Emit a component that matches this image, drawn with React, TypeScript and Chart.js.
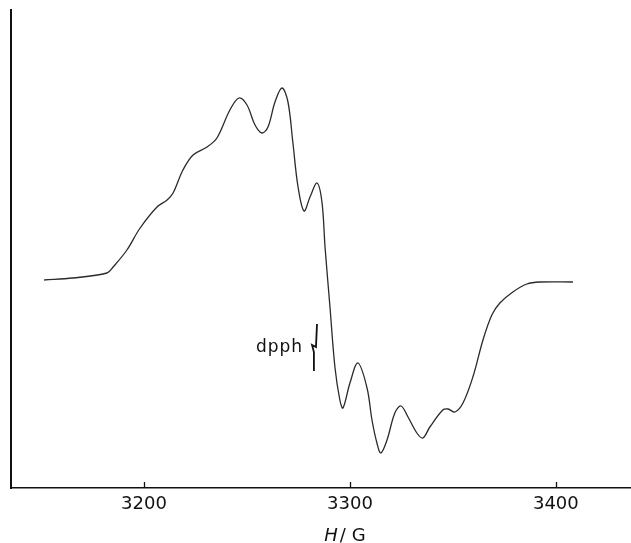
import { useEffect, useRef } from "react";
import { Chart, registerables } from "chart.js";

Chart.register(...registerables);

// Magnetic field (G) and derivative signal (arbitrary units, baseline = 0)
const fieldG = [
  3151.5, 3165.5, 3182.0, 3185.0, 3191.7, 3198.1, 3206.3, 3211.2, 3214.1, 3218.9,
  3223.8, 3230.6, 3235.4, 3241.7, 3246.1, 3250.0, 3253.9, 3257.3, 3260.2, 3263.6,
  3267.0, 3269.9, 3272.3, 3274.8, 3277.7, 3280.6, 3284.0, 3286.4, 3287.9,
  3290.3, 3292.7, 3295.1, 3296.6, 3300.0, 3303.9, 3308.3, 3310.7, 3313.1, 3315.0,
  3318.0, 3321.8, 3324.8, 3328.2, 3332.5, 3335.4, 3338.8, 3345.1, 3347.6, 3351.0,
  3354.9, 3359.7, 3364.6, 3368.9, 3372.8, 3379.1, 3385.9, 3392.2, 3408.3,
];
const signal = [
  0, 2, 7, 13, 30, 52, 73, 80, 87, 110,
  125, 133, 142, 170, 182, 175, 155, 147, 153, 178,
  192, 178, 137, 93, 69, 83, 97, 78, 33,
  -27, -87, -120, -128, -103, -83, -108, -140, -163, -173,
  -160, -133, -126, -137, -153, -158, -147, -130, -129, -132,
  -123, -97, -60, -35, -23, -12, -4, -2, -2,
];

// dpph reference marker
const dpphG = [3284.0, 3283.5, 3281.6, 3282.5, 3282.5];
const dpphY = [-44, -67, -65, -72, -91];
const dpphLabel = "dpph";

const tickValues = [3200, 3300, 3400];
const xMin = 3135.4;
const xMax = 3436;
const yMin = -208;
const yMax = 270;
const axisTitleItalic = "H";
const axisTitleRest = "/ G";

const FONT = '"DejaVu Sans", sans-serif';

const decorPlugin = {
  id: "decor",
  afterDraw(chart: any) {
    const { ctx, chartArea, scales } = chart;
    const xs = scales.x;
    const ys = scales.y;
    ctx.save();
    // inner tick marks
    ctx.strokeStyle = "#111";
    ctx.lineWidth = 1.3;
    for (const v of tickValues) {
      const px = Math.round(xs.getPixelForValue(v)) + 0.5;
      ctx.beginPath();
      ctx.moveTo(px, chartArea.bottom);
      ctx.lineTo(px, chartArea.bottom - 6);
      ctx.stroke();
    }
    // dpph label
    ctx.fillStyle = "#111";
    ctx.font = `17px ${FONT}`;
    (ctx as any).letterSpacing = "1px";
    ctx.textAlign = "right";
    ctx.textBaseline = "alphabetic";
    const lx = xs.getPixelForValue(Math.min(...dpphG)) - 9;
    const ly = ys.getPixelForValue(dpphY[3]);
    ctx.fillText(dpphLabel, lx, ly);
    // axis title H/G
    (ctx as any).letterSpacing = "0px";
    ctx.textAlign = "left";
    const fItal = `italic 18px ${FONT}`;
    const fNorm = `18px ${FONT}`;
    ctx.font = fItal;
    const w1 = ctx.measureText(axisTitleItalic).width;
    ctx.font = fNorm;
    const w2 = ctx.measureText(axisTitleRest).width;
    const cx = xs.getPixelForValue(3300) - 5;
    const by = chart.height - 2;
    const sx = cx - (w1 + w2 + 2) / 2;
    ctx.font = fItal;
    ctx.fillText(axisTitleItalic, sx, by);
    ctx.font = fNorm;
    ctx.fillText(axisTitleRest, sx + w1 + 2, by);
    ctx.restore();
  },
};

export default function App() {
  const ref = useRef<HTMLCanvasElement | null>(null);
  useEffect(() => {
    if (!ref.current) return;
    const chart = new Chart(ref.current, {
      type: "scatter",
      data: {
        datasets: [
          {
            data: fieldG.map((g, i) => ({ x: g, y: signal[i] })),
            showLine: true,
            borderColor: "#2a2a2a",
            borderWidth: 1.3,
            pointRadius: 0,
            tension: 0.35,
            fill: false,
          },
          {
            data: dpphG.map((g, i) => ({ x: g, y: dpphY[i] })),
            showLine: true,
            borderColor: "#111",
            borderWidth: 1.8,
            pointRadius: 0,
            tension: 0,
            fill: false,
          },
        ],
      },
      options: {
        responsive: false,
        animation: false,
        events: [],
        layout: { padding: { left: 11, top: 10, right: 1, bottom: 0 } },
        plugins: {
          legend: { display: false },
          tooltip: { enabled: false },
          title: { display: false },
        },
        scales: {
          x: {
            type: "linear",
            min: xMin,
            max: xMax,
            afterBuildTicks: (s: any) => {
              s.ticks = tickValues.map((v) => ({ value: v }));
            },
            afterFit: (s: any) => {
              s.height = 55;
            },
            ticks: {
              font: { family: FONT, size: 18 },
              color: "#111",
              padding: 6,
              maxRotation: 0,
              autoSkip: false,
              callback: (v: any) => String(v),
            },
            grid: { display: false, drawTicks: false },
            border: { display: true, color: "#111", width: 1.5 },
          },
          y: {
            type: "linear",
            min: yMin,
            max: yMax,
            afterFit: (s: any) => {
              s.width = 0;
            },
            ticks: { display: false },
            grid: { display: false, drawTicks: false },
            border: { display: true, color: "#111", width: 2 },
          },
        },
      },
      plugins: [decorPlugin],
    });
    return () => chart.destroy();
  }, []);
  return (
    <div style={{ position: "absolute", left: 0, top: 0, width: 631, height: 543, background: "#fff" }}>
      <canvas ref={ref} width={631} height={543} style={{ display: "block" }} />
    </div>
  );
}
